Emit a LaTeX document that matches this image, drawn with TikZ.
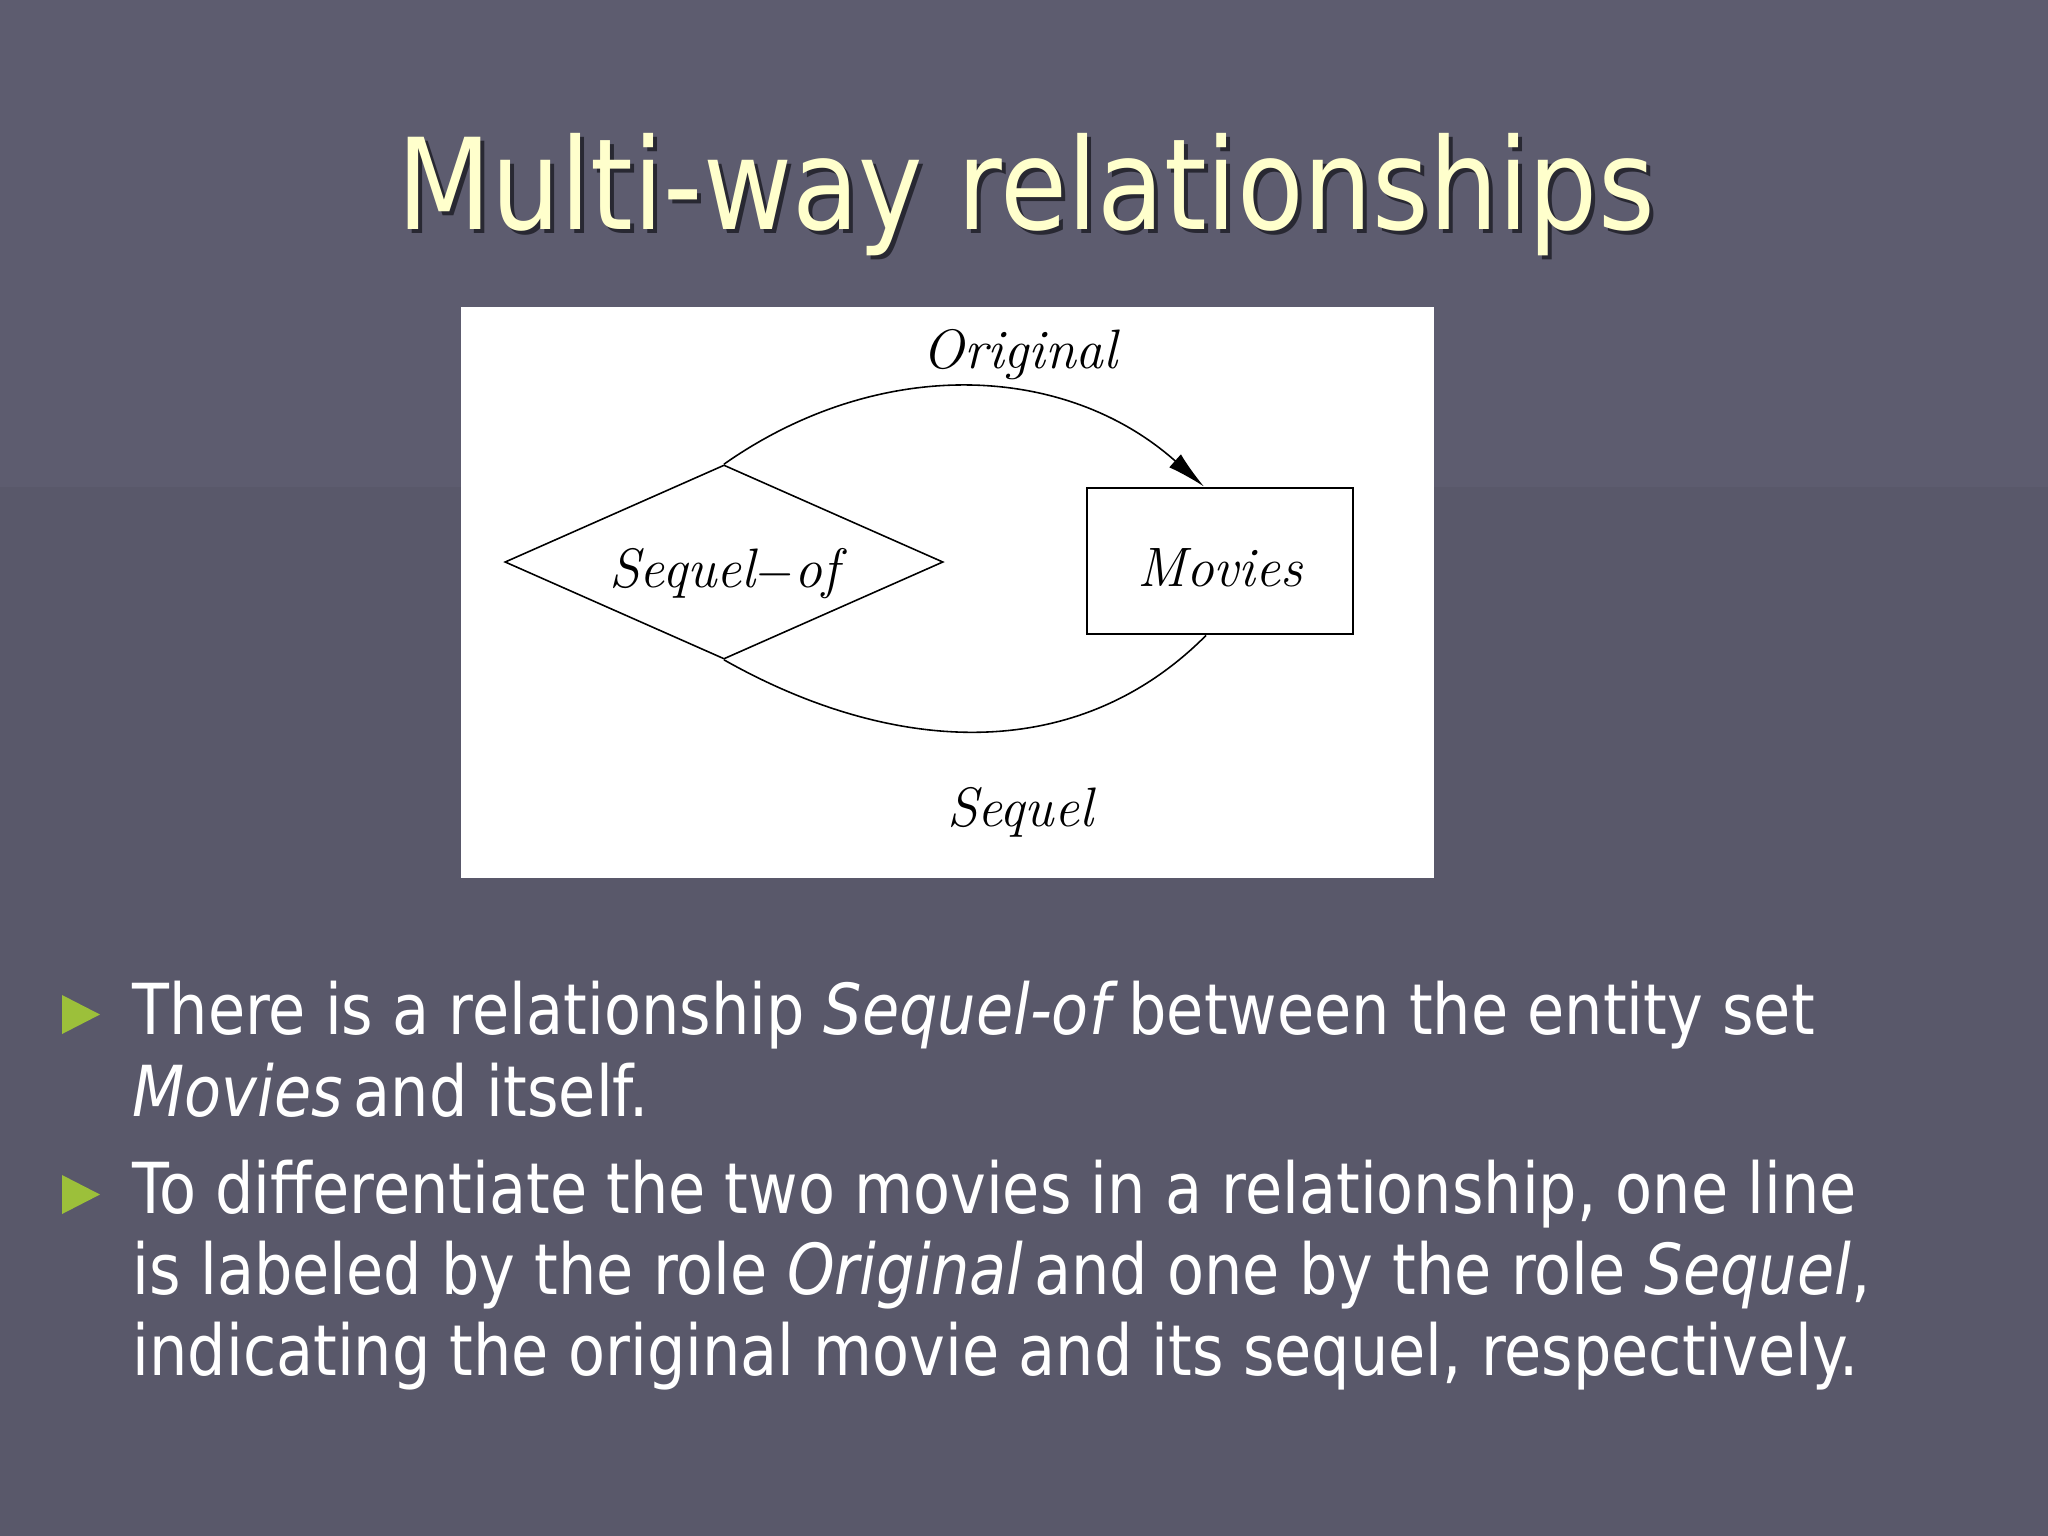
\documentclass[tikz,border=0pt]{standalone}
\usepackage{fontspec}
\usetikzlibrary{shapes.geometric,arrows.meta}
\newfontfamily\tahoma{DejaVu Sans}[FakeStretch=0.86]
\newfontfamily\tahomatitle{DejaVu Sans}[FakeStretch=0.86]
\definecolor{bgtop}{RGB}{93,92,111}
\definecolor{bgbot}{RGB}{89,88,106}
\definecolor{titlecol}{RGB}{255,255,204}
\definecolor{shadowcol}{RGB}{40,40,50}
\definecolor{bulletgreen}{RGB}{156,192,58}
\newcommand{\itsp}{\hspace{0.15em}}
\tikzset{
  titletext/.style={anchor=base,inner sep=0pt,font={\tahomatitle\fontsize{36}{43}\selectfont}},
  bodyline/.style={anchor=base west,inner sep=0pt,text=white,font={\tahoma\fontsize{20}{24}\selectfont}},
  bulletmark/.style={fill=bulletgreen},
  rolelabel/.style={anchor=base,inner sep=0pt,font={\rmfamily\itshape\fontsize{15.8}{19}\selectfont}},
  relbox/.style={diamond,draw=black,line width=0.45pt,aspect=2.26,inner sep=0pt,
    minimum width=4.38cm,minimum height=1.94cm,text height=0.6cm,text depth=0.1cm,
    font={\rmfamily\itshape\fontsize{15.8}{19}\selectfont}},
  entbox/.style={rectangle,draw=black,line width=0.8pt,inner sep=0pt,
    minimum width=2.66cm,minimum height=1.46cm,text height=0.6cm,text depth=0.1cm,
    font={\rmfamily\itshape\fontsize{15.8}{19}\selectfont}},
  roleline/.style={draw=black,line width=0.45pt}
}
\begin{document}
\begin{tikzpicture}[x=0.01cm,y=-0.01cm]
\useasboundingbox (0,0) rectangle (2048,1536);
\fill[bgtop] (0,0) rectangle (2048,487);
\fill[bgbot] (0,487) rectangle (2048,1536);
% title
\node[titletext,text=shadowcol] (titleshadow) at (1030,233) {Multi-way relationships};
\node[titletext,text=titlecol] (title) at (1026,229) {Multi-way relationships};
% diagram panel
\fill[white] (461,307) rectangle (1434,878);
\node[relbox] (rel) at (724,562) {Sequel$-$of};
\node[entbox] (movies) at (1220,561) {Movies};
\node[rolelabel] (orig) at (1020,368) {Original};
\node[rolelabel] (seq) at (1020,826) {Sequel};
\draw[roleline,-{Latex[length=11pt,width=5pt]}] (rel.north) .. controls (878,356) and (1064,362) .. ([xshift=-0.16cm]movies.north);
\draw[roleline] (rel.south) .. controls (887,752) and (1073,769) .. ([xshift=-0.14cm]movies.south);
% bullets
\fill[bulletmark] (62,995) -- (100,1014.5) -- (62,1034) -- cycle;
\fill[bulletmark] (62,1175) -- (100,1194.5) -- (62,1214) -- cycle;
% body text
\node[bodyline] (l1) at (132,1034) {There is a relationship \textit{Sequel-of}\itsp between the entity set};
\node[bodyline] (l2) at (132,1116) {\textit{Movies}\itsp and itself.};
\node[bodyline] (l3) at (132,1213) {To differentiate the two movies in a relationship, one line};
\node[bodyline] (l4) at (132,1294) {is labeled by the role \textit{Original}\itsp and one by the role \textit{Sequel},};
\node[bodyline] (l5) at (132,1375) {indicating the original movie and its sequel, respectively.};
\end{tikzpicture}
\end{document}
